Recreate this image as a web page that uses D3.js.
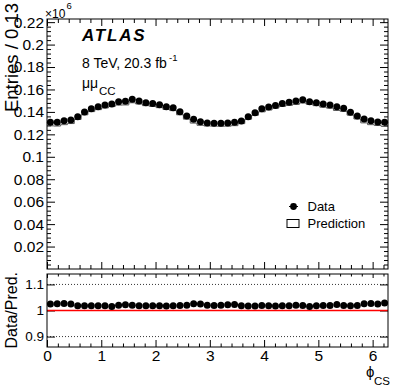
<!DOCTYPE html>
<html><head><meta charset="utf-8">
<script src="https://cdn.jsdelivr.net/npm/d3@7"></script>
<style>body{margin:0;background:#fff}svg{display:block}text{font-family:"Liberation Sans",Arial,sans-serif}</style>
</head><body>
<svg id="c" width="409" height="392"></svg>
<script>
// ---- data ----
const nBins = 50;
const xRange = [0, 2 * Math.PI];
const dataValues = [ // x 10^6 entries per bin
  0.1307,0.1307,0.1321,0.1328,0.1357,0.1399,0.1428,0.1446,0.1461,0.1470,
  0.1491,0.1494,0.1512,0.1497,0.1482,0.1476,0.1464,0.1446,0.1437,0.1401,
  0.1363,0.1334,0.1312,0.1301,0.1298,0.1298,0.1301,0.1307,0.1319,0.1357,
  0.1393,0.1428,0.1443,0.1458,0.1476,0.1485,0.1497,0.1508,0.1491,0.1482,
  0.1470,0.1461,0.1446,0.1432,0.1396,0.1363,0.1336,0.1321,0.1310,0.1307
];
const ratioValues = [
  1.0245,1.0258,1.0270,1.0245,1.0181,1.0181,1.0181,1.0181,1.0181,1.0155,
  1.0206,1.0219,1.0206,1.0181,1.0181,1.0181,1.0181,1.0168,1.0181,1.0194,
  1.0206,1.0258,1.0245,1.0206,1.0194,1.0206,1.0219,1.0232,1.0181,1.0168,
  1.0168,1.0194,1.0181,1.0168,1.0181,1.0181,1.0206,1.0194,1.0155,1.0181,
  1.0194,1.0194,1.0232,1.0194,1.0181,1.0194,1.0258,1.0270,1.0245,1.0283
];
const mainYTicks = [0.02,0.04,0.06,0.08,0.1,0.12,0.14,0.16,0.18,0.2,0.22];
const mainYTickLabels = ["0.02","0.04","0.06","0.08","0.1","0.12","0.14","0.16","0.18","0.2","0.22"];
const ratioYTicks = [0.9, 1, 1.1];
const ratioYTickLabels = ["0.9","1","1.1"];
const xTicks = [0,1,2,3,4,5,6];
const xTickLabels = ["0","1","2","3","4","5","6"];
const predictionValues = dataValues.map((d,i) => d / ratioValues[i]);

// ---- layout ----
const svg = d3.select("#c");
const L = 47, R = 388, mT = 19, mB = 269, rT = 274, rB = 347;
const x = d3.scaleLinear().domain(xRange).range([L, R]);
const y = d3.scaleLinear().domain([0, 0.2228]).range([mB, mT]);
const yr = d3.scaleLinear().domain([0.86, 1.14]).range([rB, rT]);
const bw = (xRange[1]-xRange[0]) / nBins;
const centers = d3.range(nBins).map(i => xRange[0] + (i + 0.5) * bw);

function minor(lo, hi, step) {
  const out = [];
  for (let v = lo; v <= hi + 1e-9; v += step) out.push(+v.toFixed(6));
  return out;
}
const xMinor = minor(0, 6.2, 0.2).filter(v => Math.abs(v - Math.round(v)) > 1e-6);
const yMinor = minor(0.004, 0.22, 0.004).filter(v => Math.abs(v/0.02 - Math.round(v/0.02)) > 1e-6);

function styleAxis(g, fs) {
  g.select(".domain").remove();
  g.selectAll("line").attr("stroke", "#000");
  g.selectAll("text").attr("font-size", fs).attr("fill", "#000").attr("font-family", '"Liberation Sans",Arial,sans-serif');
}

// main panel axes
svg.append("g").attr("transform", `translate(${L},0)`)
  .call(d3.axisLeft(y).tickValues(mainYTicks).tickFormat((d,i)=>mainYTickLabels[i]).tickSize(-8).tickPadding(3))
  .call(g => styleAxis(g, "15.5px"));
svg.append("g").attr("transform", `translate(${L},0)`)
  .call(d3.axisLeft(y).tickValues(yMinor).tickFormat("").tickSize(-4)).call(g => styleAxis(g, 0));
svg.append("g").attr("transform", `translate(${R},0)`)
  .call(d3.axisRight(y).tickValues(mainYTicks).tickFormat("").tickSize(-8)).call(g => styleAxis(g, 0));
svg.append("g").attr("transform", `translate(${R},0)`)
  .call(d3.axisRight(y).tickValues(yMinor).tickFormat("").tickSize(-4)).call(g => styleAxis(g, 0));
svg.append("g").attr("transform", `translate(0,${mB})`)
  .call(d3.axisBottom(x).tickValues(xTicks).tickFormat("").tickSize(-7)).call(g => styleAxis(g, 0));
svg.append("g").attr("transform", `translate(0,${mB})`)
  .call(d3.axisBottom(x).tickValues(xMinor).tickFormat("").tickSize(-4)).call(g => styleAxis(g, 0));
svg.append("g").attr("transform", `translate(0,${mT})`)
  .call(d3.axisTop(x).tickValues(xTicks).tickFormat("").tickSize(-7)).call(g => styleAxis(g, 0));
svg.append("g").attr("transform", `translate(0,${mT})`)
  .call(d3.axisTop(x).tickValues(xMinor).tickFormat("").tickSize(-4)).call(g => styleAxis(g, 0));

// ratio panel axes
svg.append("g").attr("transform", `translate(${L},0)`)
  .call(d3.axisLeft(yr).tickValues(ratioYTicks).tickFormat((d,i)=>ratioYTickLabels[i]).tickSize(-8).tickPadding(3))
  .call(g => styleAxis(g, "13.5px"));
svg.append("g").attr("transform", `translate(${R},0)`)
  .call(d3.axisRight(yr).tickValues(ratioYTicks).tickFormat("").tickSize(-8)).call(g => styleAxis(g, 0));
svg.append("g").attr("transform", `translate(0,${rB})`)
  .call(d3.axisBottom(x).tickValues(xTicks).tickFormat((d,i)=>xTickLabels[i]).tickSize(-7).tickPadding(3))
  .call(g => styleAxis(g, "15.5px"));
svg.append("g").attr("transform", `translate(0,${rB})`)
  .call(d3.axisBottom(x).tickValues(xMinor).tickFormat("").tickSize(-3.5)).call(g => styleAxis(g, 0));
svg.append("g").attr("transform", `translate(0,${rT})`)
  .call(d3.axisTop(x).tickValues(xTicks).tickFormat("").tickSize(-4)).call(g => styleAxis(g, 0));
svg.append("g").attr("transform", `translate(0,${rT})`)
  .call(d3.axisTop(x).tickValues(xMinor).tickFormat("").tickSize(-2.5)).call(g => styleAxis(g, 0));

// ratio grid lines and reference
[1.1, 0.9].forEach(v => svg.append("line").attr("x1", L).attr("x2", R)
  .attr("y1", yr(v)).attr("y2", yr(v)).attr("stroke", "#000").attr("stroke-width", 0.8).attr("stroke-dasharray", "1,2"));
svg.append("line").attr("x1", L).attr("x2", R).attr("y1", yr(1)).attr("y2", yr(1))
  .attr("stroke", "#ff0000").attr("stroke-width", 1.6);

// prediction histogram (steps)
const stepPts = [];
predictionValues.forEach((p, i) => {
  stepPts.push([xRange[0] + i*bw, p]); stepPts.push([xRange[0] + (i+1)*bw, p]);
});
svg.append("path").datum(stepPts)
  .attr("d", d3.line().x(d => x(d[0])).y(d => y(d[1])))
  .attr("fill", "none").attr("stroke", "#555").attr("stroke-width", 1);

// data points
svg.append("g").selectAll("circle").data(dataValues).join("circle")
  .attr("cx", (d,i) => x(centers[i])).attr("cy", d => y(d)).attr("r", 3.5).attr("fill", "#000");
svg.append("g").selectAll("circle").data(ratioValues).join("circle")
  .attr("cx", (d,i) => x(centers[i])).attr("cy", d => yr(d)).attr("r", 3.5).attr("fill", "#000");

// frames
svg.append("rect").attr("x", L).attr("y", mT).attr("width", R-L).attr("height", mB-mT)
  .attr("fill", "none").attr("stroke", "#000").attr("stroke-width", 1);
svg.append("rect").attr("x", L).attr("y", rT).attr("width", R-L).attr("height", rB-rT)
  .attr("fill", "none").attr("stroke", "#000").attr("stroke-width", 1);

// texts
function t(xp, yp, s, fs, opt = {}) {
  const e = svg.append("text").attr("x", xp).attr("y", yp).attr("font-size", fs).text(s)
    .attr("fill", "#000");
  if (opt.anchor) e.attr("text-anchor", opt.anchor);
  if (opt.weight) e.attr("font-weight", opt.weight);
  if (opt.style) e.attr("font-style", opt.style);
  if (opt.transform) e.attr("transform", opt.transform);
  if (opt.ls) e.attr("letter-spacing", opt.ls);
  return e;
}
// exponent
t(45, 17.5, "\u00d710", "12px");
t(66.5, 9, "6", "9.5px");
// y titles
t(0, 0, "Entries / 0.13", "18.5px", {anchor: "end", transform: "translate(18,3) rotate(-90)"});
t(0, 0, "Data/Pred.", "16px", {anchor: "end", transform: "translate(17,272) rotate(-90)"});
// labels
t(82, 41, "ATLAS", "17px", {weight: "bold", style: "italic", ls: "1.8px"});
t(82, 68, "8 TeV, 20.3 fb", "14px");
t(169, 61, "-1", "9.5px");
t(82, 88, "\u03bc\u03bc", "14px");
t(99, 95, "CC", "11.5px");
// x title
t(366, 377, "\u03d5", "15px");
t(374, 385, "CS", "11.5px");
// legend
svg.append("line").attr("x1", 289).attr("x2", 298).attr("y1", 206.5).attr("y2", 206.5).attr("stroke", "#000").attr("stroke-width", 1);
svg.append("circle").attr("cx", 293.5).attr("cy", 206.5).attr("r", 3.4).attr("fill", "#000");
t(307.5, 211, "Data", "13px");
svg.append("rect").attr("x", 287).attr("y", 219.5).attr("width", 12).attr("height", 8)
  .attr("fill", "#fff").attr("stroke", "#000").attr("stroke-width", 1);
t(307.5, 228, "Prediction", "13px");
</script>
</body></html>
